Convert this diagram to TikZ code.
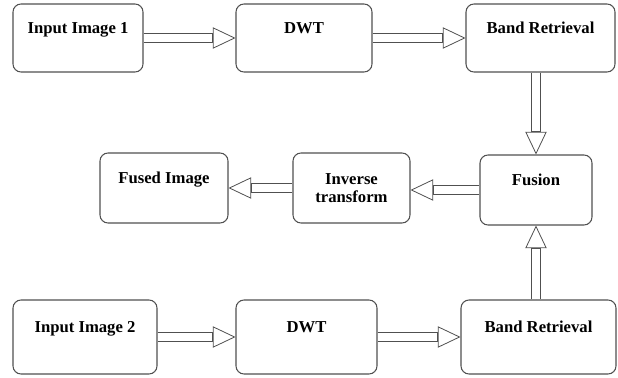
\documentclass[tikz,border=0pt]{standalone}
\usepackage{fontspec}
\setmainfont{Liberation Serif}
\usetikzlibrary{arrows.meta}
\definecolor{boxline}{RGB}{80,80,80}
\tikzset{
 blk/.style={draw=boxline,line width=0.8pt,rounded corners=6pt,minimum height=51pt,
  text height=9pt,text depth=15.5pt,font=\fontsize{12.5}{14}\selectfont\bfseries},
 flow/.style={draw=boxline,line width=0.6pt,
  preaction={draw=boxline,line width=7.4pt,-,shorten >=16pt},
  postaction={draw=white,line width=6.2pt,-,shorten >=17.4pt,shorten <=0.5pt},
  -{Triangle[length=17pt,width=16pt,fill=white]}}
}
\begin{document}
\begin{tikzpicture}[x=0.75pt,y=-0.75pt]
 \useasboundingbox (0,0) rectangle (618,378);
 % top row
 \node[blk,minimum width=97.5pt] (in1) at (78,38) {Input Image 1};
 \node[blk,minimum width=102pt] (dwt1) at (304,38) {DWT};
 \node[blk,minimum width=111.75pt] (br1) at (540.5,38) {Band Retrieval};
 % middle row
 \node[blk,minimum width=84pt,minimum height=52.5pt] (fus) at (536,190) {Fusion};
 \node[blk,minimum width=87.75pt,minimum height=52.5pt,text height=,text depth=,align=center] (inv) at (351.5,188) {Inverse\\transform};
 \node[blk,minimum width=96pt,minimum height=52.5pt] (fused) at (164,188) {Fused Image};
 % bottom row
 \node[blk,minimum width=108pt,minimum height=55.5pt] (in2) at (85,337) {Input Image 2};
 \node[blk,minimum width=105.75pt,minimum height=55.5pt] (dwt2) at (306.5,337) {DWT};
 \node[blk,minimum width=116.25pt,minimum height=55.5pt] (br2) at (538.5,337) {Band Retrieval};
 % arrows
 \draw[flow] (in1) -- (dwt1);
 \draw[flow] (dwt1) -- (br1);
 \draw[flow] (br1.south -| fus.north) -- (fus.north);
 \draw[flow] (fus.west) -- (fus.west -| inv.east);
 \draw[flow] (inv) -- (fused);
 \draw[flow] (in2) -- (dwt2);
 \draw[flow] (dwt2) -- (br2);
 \draw[flow] (br2.north -| fus.south) -- (fus.south);
\end{tikzpicture}
\end{document}
